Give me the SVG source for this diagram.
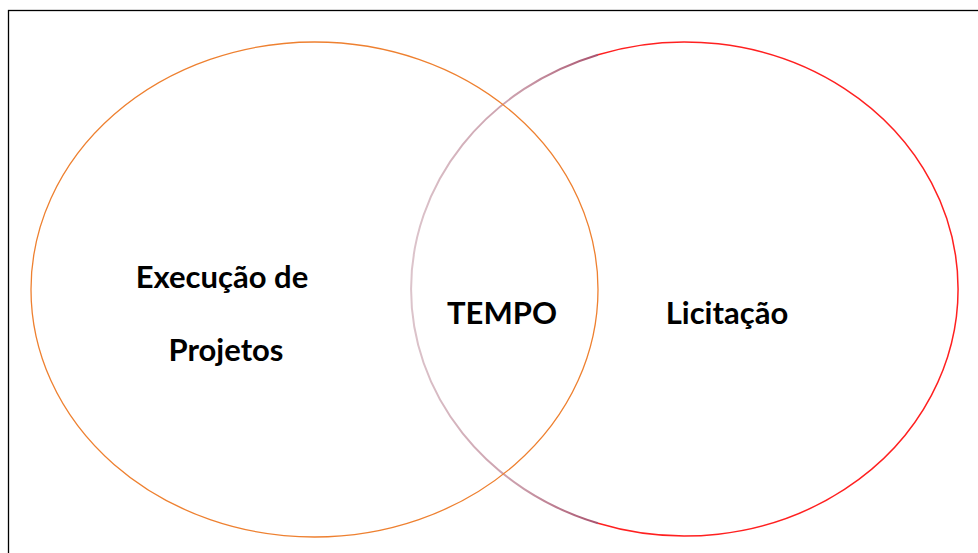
<svg xmlns="http://www.w3.org/2000/svg" width="978" height="553" viewBox="0 0 978 553">
<style>
.lbl{font-family:Lato,"Liberation Sans",sans-serif;font-weight:700;font-size:31px;fill:#000;text-anchor:middle}
</style>
<defs>
<linearGradient id="fade" gradientUnits="userSpaceOnUse" x1="411" y1="0" x2="600" y2="0">
<stop offset="0" stop-color="#dcc4cb"/>
<stop offset="0.6" stop-color="#c99aa8"/>
<stop offset="1" stop-color="#a8506c"/>
</linearGradient>
<filter id="blur" x="-5%" y="-5%" width="110%" height="110%"><feGaussianBlur stdDeviation="0.7"/></filter>
</defs>
<rect width="978" height="553" fill="#fff"/>
<rect x="8.5" y="10.5" width="1000" height="600" fill="none" stroke="#000" stroke-width="1.3"/>
<g id="licitacao">
<path d="M598,54.7 A273.5,247 0 1 1 598,523.3" fill="none" stroke="#ff2020" stroke-width="1.5"/>
<path d="M598,54.7 A273.5,247 0 0 0 598,523.3" fill="none" stroke="url(#fade)" stroke-width="2" filter="url(#blur)"/>
<text class="lbl" x="727" y="324">Licitação</text>
</g>
<g id="execucao">
<ellipse cx="314.5" cy="289.5" rx="283.5" ry="247.5" fill="none" stroke="#ee8030" stroke-width="1.3"/>
<text class="lbl" x="222" y="288">Execução de</text>
<text class="lbl" x="226" y="361">Projetos</text>
</g>
<g id="tempo">
<text class="lbl" x="502" y="324">TEMPO</text>
</g>
</svg>
